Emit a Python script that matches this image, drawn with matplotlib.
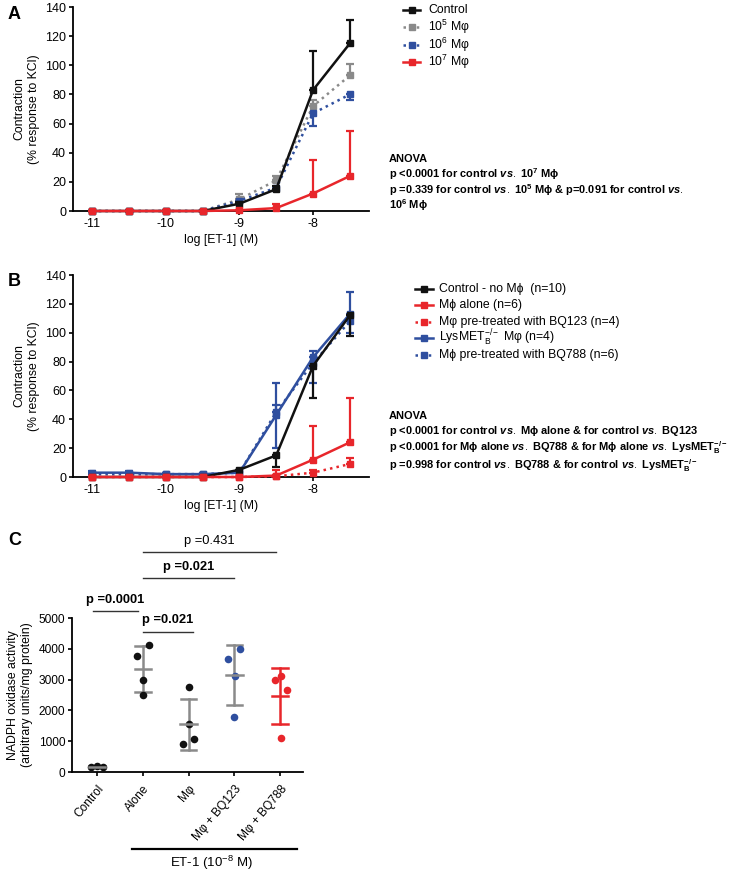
import matplotlib
matplotlib.use("Agg")
import matplotlib.pyplot as plt
from matplotlib.lines import Line2D
import numpy as np

plt.rcParams['font.family'] = ['Liberation Sans', 'DejaVu Sans']
plt.rcParams['axes.unicode_minus'] = False
plt.rcParams['mathtext.fontset'] = 'custom'
plt.rcParams['mathtext.rm'] = 'Liberation Sans'
plt.rcParams['mathtext.it'] = 'Liberation Sans:italic:bold'
plt.rcParams['mathtext.bf'] = 'Liberation Sans:bold'

# ---------------- data ----------------
logc = [-11, -10.5, -10, -9.5, -9, -8.5, -8, -7.5]

# Panel A
a_control = [0, 0, 0, 0, 5, 15, 83, 115]
a_control_up = [0, 0, 0, 0, 1, 2, 27, 16]
a_1e5 = [0, 0, 0, 0, 8, 21, 72, 93]
a_1e5_up = [0, 0, 0, 0, 4, 3, 4, 8]
a_1e6 = [0, 0, 0, 0, 7, 16, 67, 80]
a_1e6_lo = [0, 0, 0, 0, 1, 2, 9, 4]
a_1e7 = [0, 0, 0, 0, 0.5, 2, 12, 24]
a_1e7_up = [0, 0, 0, 0, 0.5, 3, 23, 31]

# Panel B
b_control = [0, 0, 0, 0, 5, 15, 77, 112]
b_control_lo = [0, 0, 0, 0, 0, 8, 22, 14]
b_alone = [0, 0, 0, 0, 0, 1, 12, 24]
b_alone_up = [0, 0, 0, 0, 0, 4, 23, 31]
b_bq123 = [0, 0, 0, 0, 0, 0.5, 3, 9]
b_bq123_up = [0, 0, 0, 0, 0, 1, 2, 4]
b_lys = [3, 3, 2, 2, 3, 43, 83, 113]
b_lys_up = [1.5, 1.5, 0.5, 0.5, 0.5, 22, 4, 15]
b_lys_lo = [0, 0, 0, 0, 0, 23, 0, 0]
b_bq788 = [2, 2, 2, 2, 3, 45, 79, 108]
b_bq788_up = [0.5, 0.5, 0.5, 0.5, 0.5, 5, 0, 0]
b_bq788_lo = [0, 0, 0, 0, 0, 0, 14, 8]

# Panel C
c_categories = ['Control', 'Alone', 'M\u03c6', 'M\u03c6 + BQ123', 'M\u03c6 + BQ788']
c_control = [160, 190, 170]
c_alone = [3780, 4118, 2996, 2505]
c_mphi = [2745, 1558, 1068, 904]
c_bq123 = [3682, 4009, 3126, 1786]
c_bq788 = [2996, 3105, 2669, 1111]
c_offsets = [[-0.13, 0.0, 0.13], [-0.13, 0.13, 0.0, 0.0], [0.0, 0.0, 0.12, -0.13],
             [-0.13, 0.13, 0.02, 0.0], [-0.11, 0.02, 0.15, 0.02]]
c_mean = [175, 3344, 1555, 3150, 2470]
c_sd = [20, 745, 825, 975, 910]

BLACK = '#111111'
GRAY = '#8a8a8a'
BLUE = '#2f4f9f'
RED = '#e8262b'

fig = plt.figure(figsize=(7.5, 8.72), dpi=100)
W, H = 750, 872

def fx(x):
    return x / W

def fy(y):
    return 1 - y / H

def ax_at(l, t, r, b):
    return fig.add_axes([l / W, 1 - b / H, (r - l) / W, (b - t) / H])

TICK_FS = 9
LAB_FS = 8.8

def style_curve_ax(ax):
    ax.set_xlim(-11.26, -7.24)
    ax.set_ylim(0, 140)
    ax.set_yticks(range(0, 141, 20))
    ax.set_xticks([-11, -10, -9, -8])
    ax.spines['top'].set_visible(False)
    ax.spines['right'].set_visible(False)
    for s in ['left', 'bottom']:
        ax.spines[s].set_linewidth(1.3)
    ax.tick_params(labelsize=TICK_FS, width=1.2, length=3, pad=2)
    ax.set_xlabel('log [ET-1] (M)', fontsize=LAB_FS, labelpad=3)
    ax.set_ylabel('Contraction\n(% response to KCl)', fontsize=LAB_FS, labelpad=4)

def series(ax, y, color, ls, lo=None, up=None, z=3):
    lo = lo if lo is not None else [0] * len(y)
    up = up if up is not None else [0] * len(y)
    ax.errorbar(logc, y, yerr=[lo, up], color=color, ls=ls, lw=1.8,
                marker='s', ms=4.5, capsize=3, capthick=1.6, elinewidth=1.6,
                zorder=z, clip_on=False)

def legend_rows(x0, x1, xt, ys, entries, fs=8.8):
    for y, (label, color, ls) in zip(ys, entries):
        fig.add_artist(Line2D([fx(x0), fx(x1)], [fy(y), fy(y)], color=color, ls=ls, lw=1.8))
        fig.add_artist(Line2D([fx((x0 + x1) / 2)], [fy(y)], color=color, marker='s', ms=4.5, ls='none'))
        fig.text(fx(xt), fy(y), label, fontsize=fs, va='center', ha='left')

def text_lines(x, ys, lines, fs=7.9):
    for y, s in zip(ys, lines):
        fig.text(fx(x), fy(y), s, fontsize=fs, fontweight='bold', va='center', ha='left')

# ---------------- Panel A ----------------
axA = ax_at(73, 7, 369, 211)
style_curve_ax(axA)
series(axA, a_control, BLACK, '-', up=a_control_up, z=4)
series(axA, a_1e5, GRAY, ':', up=a_1e5_up, z=3)
series(axA, a_1e6, BLUE, ':', lo=a_1e6_lo, z=3)
series(axA, a_1e7, RED, '-', up=a_1e7_up, z=5)
legend_rows(403, 420, 428, [10, 27, 45, 62],
            [('Control', BLACK, '-'), ('10$^{5}$ M\u03c6', GRAY, ':'),
             ('10$^{6}$ M\u03c6', BLUE, ':'), ('10$^{7}$ M\u03c6', RED, '-')])
fig.text(fx(8), fy(6), 'A', fontsize=13, fontweight='bold', va='top')
text_lines(389, [159, 174, 190, 205],
           ['ANOVA',
            'p <0.0001 for control $\\it{vs.}$ 10$^{\\mathbf{7}}$ M\u03d5',
            'p =0.339 for control $\\it{vs.}$ 10$^{\\mathbf{5}}$ M\u03d5 & p=0.091 for control $\\it{vs.}$',
            '10$^{\\mathbf{6}}$ M\u03d5'])

# ---------------- Panel B ----------------
axB = ax_at(73, 275, 369, 477)
style_curve_ax(axB)
series(axB, b_control, BLACK, '-', lo=b_control_lo, z=4)
series(axB, b_alone, RED, '-', up=b_alone_up, z=5)
series(axB, b_bq123, RED, ':', up=b_bq123_up, z=5)
series(axB, b_lys, BLUE, '-', lo=b_lys_lo, up=b_lys_up, z=3)
series(axB, b_bq788, BLUE, ':', lo=b_bq788_lo, up=b_bq788_up, z=3)
legend_rows(415, 433, 439, [289, 305, 322, 338, 355],
            [('Control - no M\u03d5  (n=10)', BLACK, '-'),
             ('M\u03d5 alone (n=6)', RED, '-'),
             ('M\u03c6 pre-treated with BQ123 (n=4)', RED, ':'),
             ('LysMET$_{\\mathrm{B}}^{-/-}$ M\u03c6 (n=4)', BLUE, '-'),
             ('M\u03d5 pre-treated with BQ788 (n=6)', BLUE, ':')])
fig.text(fx(8), fy(273), 'B', fontsize=13, fontweight='bold', va='top')
text_lines(389, [416, 431, 448, 466],
           ['ANOVA',
            'p <0.0001 for control $\\it{vs.}$ M\u03d5 alone & for control $\\it{vs.}$ BQ123',
            'p <0.0001 for M\u03d5 alone $\\it{vs.}$ BQ788 & for M\u03d5 alone $\\it{vs.}$ LysMET$_{\\mathbf{B}}^{\\mathbf{-/-}}$',
            'p =0.998 for control $\\it{vs.}$ BQ788 & for control $\\it{vs.}$ LysMET$_{\\mathbf{B}}^{\\mathbf{-/-}}$'])

# ---------------- Panel C ----------------
axC = ax_at(72, 618, 303, 772)
x_pos = np.arange(len(c_categories))
axC.set_xlim(-0.55, 4.5)
axC.set_ylim(0, 5000)
axC.set_yticks(range(0, 5001, 1000))
axC.set_xticks(x_pos)
axC.set_xticklabels(c_categories, rotation=50, ha='right', rotation_mode='anchor', fontsize=9.8)
axC.spines['top'].set_visible(False)
axC.spines['right'].set_visible(False)
for s in ['left', 'bottom']:
    axC.spines[s].set_linewidth(1.3)
axC.tick_params(labelsize=8.6, width=1.2, length=3, pad=2)
axC.tick_params(axis='x', pad=5)
axC.set_ylabel('NADPH oxidase activity\n(arbitrary units/mg protein)', fontsize=LAB_FS, labelpad=4)

groups = [c_control, c_alone, c_mphi, c_bq123, c_bq788]
pt_colors = [BLACK, BLACK, BLACK, BLUE, RED]
bar_colors = [GRAY, GRAY, GRAY, GRAY, RED]
for i, (vals, offs) in enumerate(zip(groups, c_offsets)):
    axC.scatter(np.array(offs) + i, vals, s=30, color=pt_colors[i], zorder=3,
                clip_on=False, linewidths=0)
    m, sd = c_mean[i], c_sd[i]
    axC.plot([i - 0.18, i + 0.18], [m, m], color=bar_colors[i], lw=1.8, zorder=4)
    axC.plot([i, i], [m - sd, m + sd], color=bar_colors[i], lw=1.8, zorder=2)
    axC.plot([i - 0.17, i + 0.17], [m - sd, m - sd], color=bar_colors[i], lw=1.8, zorder=2)
    axC.plot([i - 0.17, i + 0.17], [m + sd, m + sd], color=bar_colors[i], lw=1.8, zorder=2)

def bracket(x0, x1, y, text, bold):
    axC.plot([x0, x1], [y, y], color='#333333', lw=1.0, clip_on=False)
    axC.text((x0 + x1) / 2, y + 170, text, ha='center', va='bottom', fontsize=9.3,
             fontweight='bold' if bold else 'normal', clip_on=False)

bracket(-0.1, 0.9, 5220, 'p =0.0001', True)
bracket(1.0, 2.1, 4560, 'p =0.021', True)
bracket(1.0, 3.0, 6300, 'p =0.021', True)
bracket(1.0, 3.9, 7150, 'p =0.431', False)

fig.text(fx(8), fy(532), 'C', fontsize=13, fontweight='bold', va='top')
fig.add_artist(Line2D([fx(132), fx(297)], [fy(849), fy(849)], color='black', lw=1.6))
fig.text(fx(211), fy(863), 'ET-1 (10$^{-8}$ M)', fontsize=9.5, ha='center', va='center')

fig.savefig('out.png', dpi=100)
